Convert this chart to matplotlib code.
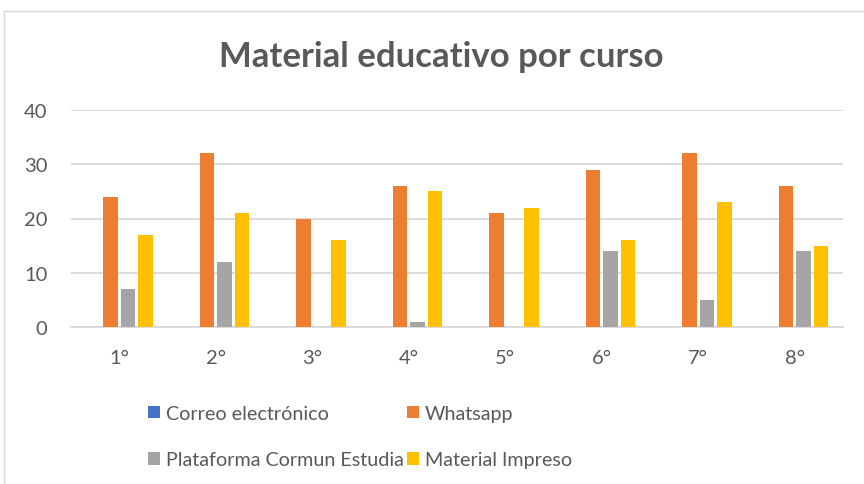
import matplotlib
matplotlib.use("Agg")
import matplotlib.pyplot as plt
import numpy as np
from matplotlib.patches import Rectangle, Patch

categories = ["1°", "2°", "3°", "4°", "5°", "6°", "7°", "8°"]
series_names = ["Correo electrónico", "Whatsapp", "Plataforma Cormun Estudia", "Material Impreso"]
correo = [0, 0, 0, 0, 0, 0, 0, 0]
whatsapp = [24, 32, 20, 26, 21, 29, 32, 26]
plataforma = [7, 12, 0, 1, 0, 14, 5, 14]
impreso = [17, 21, 16, 25, 22, 16, 23, 15]
colors = ["#4472C4", "#ED7D31", "#A5A5A5", "#FFC000"]
yticks = [0, 10, 20, 30, 40]

plt.rcParams['font.family'] = ['Lato', 'DejaVu Sans']
txt = "#595959"
grid = "#D9D9D9"

W, H = 864, 485
fig = plt.figure(figsize=(W/100, H/100), dpi=100)
fig.patches.append(Rectangle((4/W, -0.1), 1.2, (H-12)/H + 0.1, transform=fig.transFigure,
                             fill=False, edgecolor=grid, lw=1.0))

ax = fig.add_axes([71/W, 157/H, (843-71)/W, (374-157)/H])
x = np.arange(len(categories))
step = 0.181
bw = 0.148
data = [correo, whatsapp, plataforma, impreso]
for i, (vals, c, name) in enumerate(zip(data, colors, series_names)):
    ax.bar(x + (i - 1.5) * step, vals, bw, color=c, label=name, zorder=3)

ax.set_xlim(-0.5, len(categories) - 0.5)
ax.set_ylim(0, 40)
ax.set_yticks(yticks)
ax.set_xticks(x)
ax.set_xticklabels(categories)
for s in ["top", "right", "left"]:
    ax.spines[s].set_visible(False)
ax.spines["bottom"].set_color(grid)
ax.spines["bottom"].set_linewidth(1.3)
ax.grid(axis="y", color=grid, lw=1.3, zorder=0)
ax.tick_params(axis="both", length=0, colors=txt, labelsize=14.5)
ax.tick_params(axis="y", pad=17)
ax.tick_params(axis="x", pad=16)

fig.text(441/W, (H-57)/H, "Material educativo por curso", ha="center", va="center",
         fontsize=25, fontweight="bold", color=txt)

handles = [Patch(facecolor=c, label=n) for c, n in zip(colors, series_names)]
order = [0, 2, 1, 3]
leg = fig.legend(handles=[handles[k] for k in order], ncol=2, loc="upper left",
                 bbox_to_anchor=(130/W, (H-388)/H),
                 frameon=False, fontsize=14.2, handlelength=0.6, handleheight=0.6,
                 handletextpad=0.3, columnspacing=0.2, labelspacing=1.5, labelcolor=txt)

fig.savefig("out.png", dpi=100)
